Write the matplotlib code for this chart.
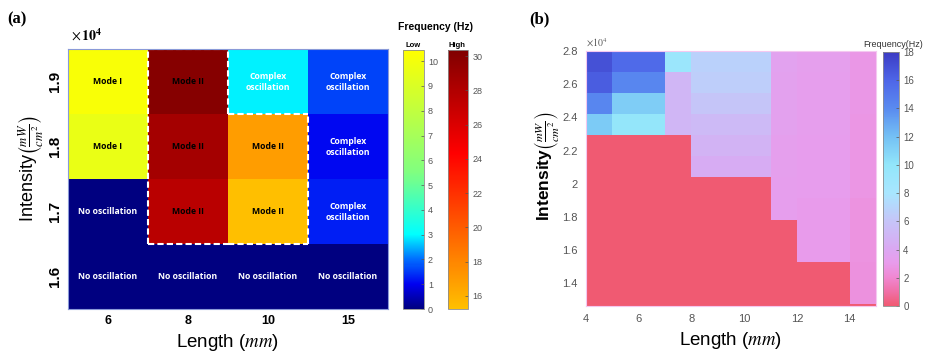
import numpy as np
import matplotlib.pyplot as plt
from matplotlib.colors import LinearSegmentedColormap, Normalize
from matplotlib.cm import ScalarMappable

plt.rcParams['font.family'] = ['Liberation Sans', 'DejaVu Sans']
plt.rcParams['mathtext.fontset'] = 'stix'

# ---- panel (a) data ----
lengths_a = ['6', '8', '10', '15']
intensity_a = ['1.6', '1.7', '1.8', '1.9']
# rows bottom -> top
freq_a = [
    [0.0, 0.0, 0.0, 0.0],
    [0.0, 27.6, 15.3, 1.3],
    [9.6, 28.6, 16.9, 1.1],
    [10.2, 30.0, 2.9, 1.6],
]
mode_a = [
    ['No oscillation', 'No oscillation', 'No oscillation', 'No oscillation'],
    ['No oscillation', 'Mode II', 'Mode II', 'Complex\noscillation'],
    ['Mode I', 'Mode II', 'Mode II', 'Complex\noscillation'],
    ['Mode I', 'Mode II', 'Complex\noscillation', 'Complex\noscillation'],
]
low_ticks = list(range(0, 11))
high_ticks = list(range(16, 31, 2))

# ---- panel (b) data ----
length_edges_b = [4, 5, 7, 8, 11, 12, 14, 15]
intensity_edges_b = [1.20, 1.276, 1.403, 1.530, 1.657, 1.784, 1.911,
                     2.038, 2.165, 2.292, 2.419, 2.546, 2.673, 2.8]
# rows bottom -> top
freq_b = [
    [0, 0, 0, 0, 0, 0, 0],
    [0, 0, 0, 0, 0, 0, 2.5],
    [0, 0, 0, 0, 0, 0, 2.5],
    [0, 0, 0, 0, 0, 3.0, 2.6],
    [0, 0, 0, 0, 0, 3.0, 2.6],
    [0, 0, 0, 0, 3.2, 3.0, 2.6],
    [0, 0, 0, 0, 3.2, 3.1, 2.7],
    [0, 0, 0, 4.3, 3.3, 3.1, 2.7],
    [0, 0, 0, 4.8, 3.3, 3.1, 2.7],
    [11.4, 9.8, 5.0, 5.3, 3.4, 3.2, 2.7],
    [14.3, 11.3, 5.0, 6.1, 3.4, 3.2, 2.8],
    [16.4, 14.3, 5.0, 6.6, 3.4, 3.2, 2.8],
    [17.0, 15.8, 9.2, 6.8, 3.5, 3.3, 2.8],
]
xticks_b = [4, 6, 8, 10, 12, 14]
yticks_b = [1.4, 1.6, 1.8, 2.0, 2.2, 2.4, 2.6, 2.8]
yticklabels_b = ['1.4', '1.6', '1.8', '2', '2.2', '2.4', '2.6', '2.8']
ticks_cb_b = list(range(0, 19, 2))

# colormaps
low_lim = (0, 10.45)
high_lim = (15.24, 30.35)
cmap_low = LinearSegmentedColormap.from_list('low', [
    (0.0, '#000080'), (1.0 / 10.45, '#0000f0'), (2.0 / 10.45, '#0070ff'),
    (3.0 / 10.45, '#00ffff'), (5.5 / 10.45, '#80ff80'), (1.0, '#ffff00')])
cmap_high = LinearSegmentedColormap.from_list('high', [
    (0.0, '#ffc000'), (0.6, '#ff0000'), (1.0, '#800000')])
cmap_b = LinearSegmentedColormap.from_list('b', [
    (0 / 18, '#f05a72'), (1 / 18, '#f070a8'), (2 / 18, '#f088d2'),
    (3 / 18, '#e89cec'), (4 / 18, '#daa8f2'),
    (6 / 18, '#c6c4f8'), (8 / 18, '#a8e6ff'), (10 / 18, '#92e6fa'),
    (12 / 18, '#74c0f4'), (14 / 18, '#5a8cf0'), (16 / 18, '#4e66e8'),
    (1.0, '#3c3cc4')])

fig = plt.figure(figsize=(9.26, 3.56), dpi=100)

# ---------------- panel (a) ----------------
ax1 = fig.add_axes([0.0734, 0.132, 0.3456, 0.730])
F = np.array(freq_a)
is_high = np.array([[m == 'Mode II' for m in row] for row in mode_a])
edges = np.arange(5)
ax1.pcolormesh(edges, edges, np.ma.masked_where(is_high, F), cmap=cmap_low,
               vmin=low_lim[0], vmax=low_lim[1])
ax1.pcolormesh(edges, edges, np.ma.masked_where(~is_high, F), cmap=cmap_high,
               vmin=high_lim[0], vmax=high_lim[1])

for i in range(4):
    for j in range(4):
        txt = mode_a[i][j]
        col = 'black' if txt.startswith('Mode') else 'white'
        ax1.text(j + 0.5, i + 0.5, txt, ha='center', va='center', color=col,
                 fontsize=6.2, fontweight='bold', family='Open Sans',
                 linespacing=1.3)

# dashed outline around the Mode II region
dash = dict(color='white', lw=1.5, ls=(0, (3, 1.5)))
for i in range(4):
    for j in range(4):
        if not is_high[i, j]:
            continue
        if i == 0 or not is_high[i - 1, j]:
            ax1.plot([j, j + 1], [i, i], **dash)
        if i == 3 or not is_high[i + 1, j]:
            ax1.plot([j, j + 1], [i + 1, i + 1], **dash)
        if j == 0 or not is_high[i, j - 1]:
            ax1.plot([j, j], [i, i + 1], **dash)
        if j == 3 or not is_high[i, j + 1]:
            ax1.plot([j + 1, j + 1], [i, i + 1], **dash)

ax1.set_xlim(0, 4)
ax1.set_ylim(0, 4)
ax1.set_xticks(np.arange(4) + 0.5)
ax1.set_xticklabels(lengths_a, fontsize=9, fontweight='bold')
ax1.set_yticks(np.arange(4) + 0.5)
ax1.set_yticklabels(intensity_a, fontsize=11, fontweight='bold',
                    rotation=90, va='center')
ax1.tick_params(length=0, pad=4)
for s in ax1.spines.values():
    s.set_color('#8a9ad8')
    s.set_linewidth(0.8)
ax1.set_xlabel('Length ($mm$)', fontsize=13.5, labelpad=4)
ax1.set_ylabel(r'Intensity$\left(\frac{mW}{cm^2}\right)$', fontsize=13)
ax1.yaxis.set_label_coords(-0.068, 0.54)
fig.text(0.077, 0.885, r'$\times\,\mathbf{10^4}$', fontsize=10)
fig.text(0.008, 0.935, '(a)', fontsize=12, fontweight='bold', family='Liberation Serif')

# colorbars (a)
cax1 = fig.add_axes([0.435, 0.132, 0.0227, 0.7275])
cb1 = fig.colorbar(ScalarMappable(Normalize(*low_lim), cmap_low), cax=cax1, ticks=low_ticks)
cax2 = fig.add_axes([0.4838, 0.132, 0.0216, 0.7275])
cb2 = fig.colorbar(ScalarMappable(Normalize(*high_lim), cmap_high), cax=cax2, ticks=high_ticks)
for cb in (cb1, cb2):
    cb.outline.set_edgecolor('#8c8c8c')
    cb.outline.set_linewidth(0.6)
    cb.ax.tick_params(direction='in', length=2, width=0.5, color='#555555',
                      labelsize=6.5, labelcolor='#555555', pad=3)
fig.text(0.470, 0.915, 'Frequency (Hz)', ha='center', fontsize=7.5, fontweight='bold')
fig.text(0.446, 0.868, 'Low', ha='center', fontsize=5.5, fontweight='bold')
fig.text(0.494, 0.868, 'High', ha='center', fontsize=5.5, fontweight='bold')

# ---------------- panel (b) ----------------
ax2 = fig.add_axes([0.6328, 0.1404, 0.3132, 0.716])
ax2.pcolormesh(length_edges_b, intensity_edges_b, np.array(freq_b), cmap=cmap_b,
               vmin=0, vmax=18)
ax2.set_xlim(4, 15)
ax2.set_ylim(1.262, 2.8)
ax2.set_xticks(xticks_b)
ax2.set_xticklabels([str(v) for v in xticks_b])
ax2.set_yticks(yticks_b)
ax2.set_yticklabels(yticklabels_b)
ax2.tick_params(length=0, labelsize=8, labelcolor='#555555', pad=6)
for s in ax2.spines.values():
    s.set_color('#f4c8f0')
    s.set_linewidth(0.8)
ax2.set_xlabel('Length ($mm$)', fontsize=13.5, labelpad=4)
ax2.set_ylabel(r'Intensity$\left(\frac{mW}{cm^2}\right)$', fontsize=12.5,
               fontweight='bold')
ax2.yaxis.set_label_coords(-0.086, 0.55)
fig.text(0.633, 0.868, r'$\times10^4$', fontsize=7, color='#555555')
fig.text(0.572, 0.935, '(b)', fontsize=12, fontweight='bold', family='Liberation Serif')

cax3 = fig.add_axes([0.9536, 0.1404, 0.0173, 0.7135])
cb3 = fig.colorbar(ScalarMappable(Normalize(0, 18), cmap_b), cax=cax3, ticks=ticks_cb_b)
cb3.outline.set_edgecolor('#8c8c8c')
cb3.outline.set_linewidth(0.6)
cb3.ax.tick_params(direction='in', length=2, width=0.5, color='#555555',
                   labelsize=7, labelcolor='#555555', pad=3)
fig.text(0.965, 0.868, 'Frequency(Hz)', ha='center', fontsize=6.5, color='#333333')

fig.savefig('out.png', dpi=100)
